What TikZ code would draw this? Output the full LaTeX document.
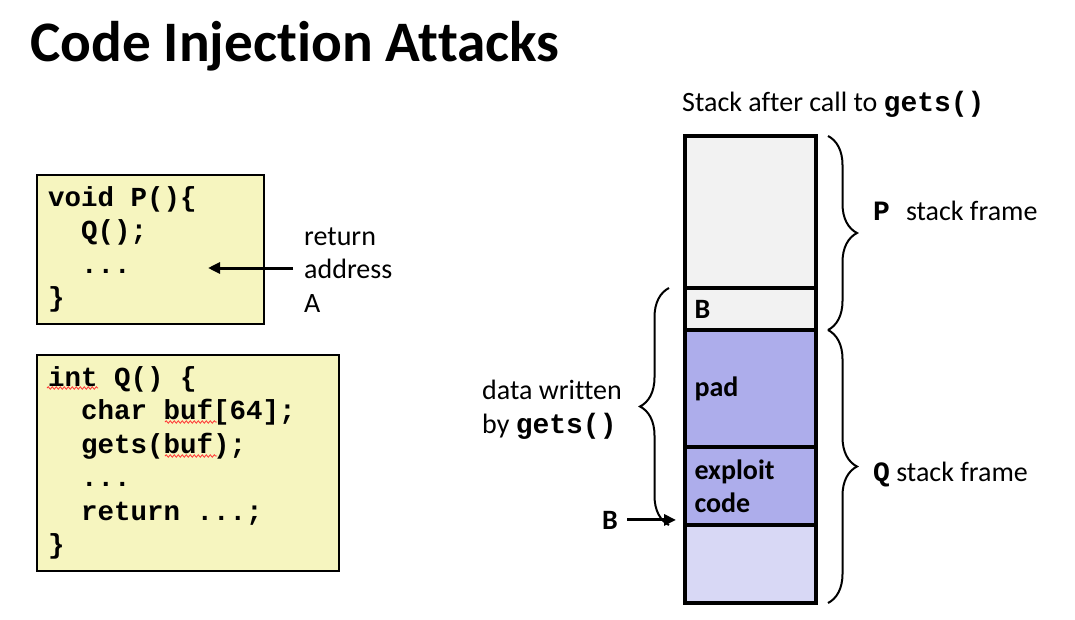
\documentclass[tikz,border=0pt]{standalone}
\usepackage{fontspec}
\setmainfont{Carlito}[Ligatures=NoCommon]
\setmonofont{Liberation Mono}
\usetikzlibrary{positioning,arrows.meta,decorations.pathreplacing,decorations.pathmorphing}

\definecolor{codeyellow}{HTML}{F6F5BF}
\definecolor{framegray}{HTML}{F2F2F2}
\definecolor{padblue}{HTML}{ADADEB}
\definecolor{freeblue}{HTML}{D8D8F5}

\newcommand{\code}[1]{{\ttfamily\bfseries #1}}
\newcommand{\tsp}{\hphantom{x}}
\newcommand{\ind}{\hphantom{xx}}

\tikzset{
  codebox/.style={draw, line width=2, fill=codeyellow, anchor=north west, align=left,
    inner xsep=11, outer sep=0, font=\fontsize{27.5}{33.5}\selectfont\ttfamily\bfseries},
  cell/.style={draw, line width=3.5, outer sep=0, minimum width=131, align=left,
    text width=112, inner xsep=9, font=\fontsize{28}{33}\selectfont\bfseries},
  txt/.style={anchor=base west, align=left, inner sep=0, font=\fontsize{28}{34}\selectfont},
  frame brace/.style={decorate, decoration={brace, amplitude=29}, line width=2},
  pointer/.style={line width=3, -{Triangle[length=12, width=11]}},
  squiggle/.style={red!80, line width=0.8, decorate, decoration={snake, segment length=4, amplitude=1.2}}
}

\begin{document}
\begin{tikzpicture}[x=1pt, y=-1pt]
  \path[fill=white, use as bounding box] (0,0) rectangle (1075,620);

  \node[txt, font=\fontsize{57.3}{60}\selectfont\bfseries] (title) at (30,62) {Code Injection Attacks};

  % code of P and Q
  \node[codebox, minimum width=227, minimum height=149, text width=205] (pcode) at (37,175)
    {void\tsp P()\{\\ \ind Q();\\ \ind ...\\ \}};
  \node[codebox, minimum width=302, minimum height=216, text width=280] (qcode) at (37,355)
    {int\tsp Q()\tsp\{\\ \ind char\tsp buf[64];\\ \ind gets(buf);\\ \ind ...\\ \ind return\tsp ...;\\ \}};
  \draw[squiggle] (47,388) -- (98,388);
  \draw[squiggle] (165,422) -- (217,422);
  \draw[squiggle] (165,456) -- (217,456);

  \node[txt, font=\fontsize{28}{33.5}\selectfont] (retaddr) at (304,312) {return\\address\\A};
  \coordinate (dots) at (208,268);
  \draw[pointer, shorten <=11pt] (retaddr.west |- dots) -- (dots);

  % the stack
  \node[txt] (stacktitle) at (682,112) {Stack after call to \code{gets()}};
  \node[cell, fill=framegray, minimum height=152, anchor=north west] (ptop) at (685,136) {};
  \node[cell, fill=framegray, minimum height=42, below=0pt of ptop] (ret) {B};
  \node[cell, fill=padblue, minimum height=117, below=0pt of ret] (pad) {pad};
  \node[cell, fill=padblue, minimum height=78, below=0pt of pad] (exploit) {exploit\\code};
  \node[cell, fill=freeblue, minimum height=78, below=0pt of exploit] (free) {};

  % frames
  \draw[frame brace] ([xshift=12pt]ptop.north east) -- ([xshift=12pt]ret.south east);
  \draw[frame brace] ([xshift=12pt]pad.north east) -- ([xshift=12pt]free.south east);
  \node[txt] (pframe) at (873,221) {\code{P}\hspace{16pt}stack frame};
  \node[txt] (qframe) at (873,481) {\code{Q} stack frame};

  \draw[frame brace] ([xshift=-16pt]exploit.south west) -- ([xshift=-16pt]ret.north west);
  \node[txt] (written) at (482,433) {data written\\by \code{gets()}};

  \node[txt, font=\fontsize{28}{34}\selectfont\bfseries] (bptr) at (602,529) {B};
  \draw[pointer, shorten <=9pt, shorten >=9pt] (bptr.east) -- (bptr.east -| exploit.west);
\end{tikzpicture}
\end{document}
